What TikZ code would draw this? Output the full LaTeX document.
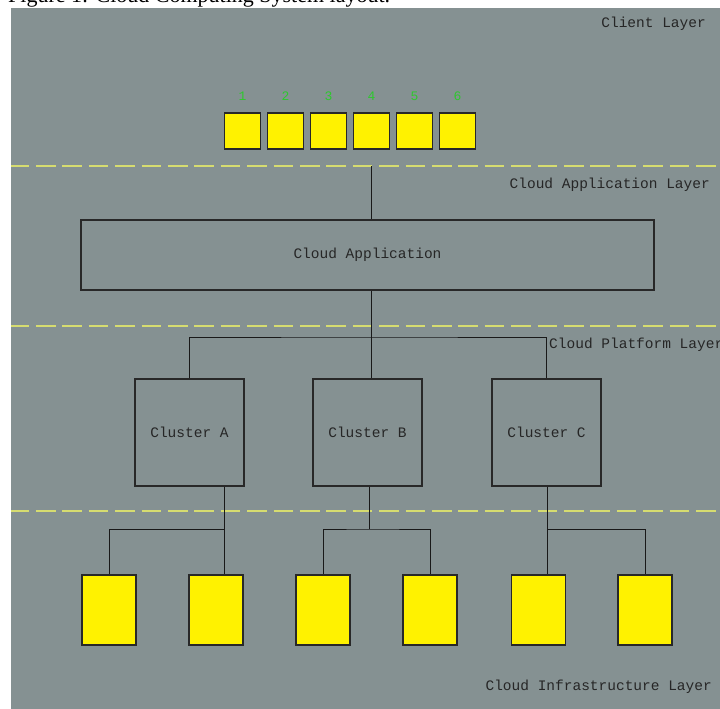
\documentclass[tikz,border=0pt]{standalone}
\usepackage{fontspec}
\setmainfont{Liberation Serif}
\newfontfamily\monofont{Liberation Mono}
\definecolor{panel}{RGB}{133,145,146}
\definecolor{layerline}{RGB}{214,220,112}
\definecolor{boxedge}{RGB}{40,40,40}
\definecolor{idgreen}{RGB}{45,200,45}
\begin{document}
\begin{tikzpicture}[x=1pt,y=-1pt,
  mono/.style={font=\monofont\fontsize{14.5}{16}\selectfont, text=black!85, inner sep=0pt},
  plainbox/.style={draw=boxedge, line width=1.2pt, inner sep=0pt},
  unit/.style={plainbox, fill=yellow, minimum width=36pt, minimum height=36pt},
  leaf/.style={plainbox, fill=yellow, minimum width=54pt, minimum height=70pt},
  cluster/.style={plainbox, minimum width=109pt, minimum height=107pt, mono},
  wire/.style={draw=black!90, line width=1pt},
  divider/.style={draw=layerline, line width=1.6pt, dash pattern=on 19.6pt off 6.8pt, dash phase=1.5pt},
  idlabel/.style={font=\monofont\fontsize{13}{14}\selectfont, text=idgreen, inner sep=0pt, anchor=base}]
\useasboundingbox (0,0) rectangle (720,709);

% backdrop
\fill[panel] (11,8) rectangle (720,709);

% caption, mostly above the page edge
\node[anchor=base west, inner sep=0pt, font=\fontsize{22}{24}\selectfont] (caption) at (8,3) {Figure 1: Cloud Computing System layout.};

% layer dividers
\coordinate (d1w) at (11,166);  \coordinate (d1e) at (720,166);
\coordinate (d2w) at (11,326);  \coordinate (d2e) at (720,326);
\coordinate (d3w) at (11,511);  \coordinate (d3e) at (720,511);
\draw[divider] (d1w) -- (d1e);
\draw[divider] (d2w) -- (d2e);
\draw[divider] (d3w) -- (d3e);

% layer labels
\node[mono, anchor=base east] (lclient) at (706,28) {Client Layer};
\node[mono, anchor=base east] (lapp) at (710,188) {Cloud Application Layer};
\node[mono, anchor=base west] (lplat) at (549,348) {Cloud Platform Layer};
\node[mono, anchor=base east] (linfra) at (712,690) {Cloud Infrastructure Layer};

% clients
\foreach \i in {1,...,6} {
  \node[unit] (u\i) at ({242.5+43*(\i-1)},131) {};
  \node[idlabel] (n\i) at ({242.5+43*(\i-1)},100) {\i};
}

% application
\node[plainbox, minimum width=573pt, minimum height=70pt, mono] (app) at (367.5,255) {Cloud Application};

% platform clusters
\node[cluster] (cA) at (189.5,432.5) {Cluster A};
\node[cluster] (cB) at (367.5,432.5) {Cluster B};
\node[cluster] (cC) at (546.5,432.5) {Cluster C};

% infrastructure nodes
\node[leaf] (l1) at (109,610) {};
\node[leaf] (l2) at (216,610) {};
\node[leaf] (l3) at (323,610) {};
\node[leaf] (l4) at (430,610) {};
\node[leaf] (l5) at (538.5,610) {};
\node[leaf] (l6) at (645,610) {};

% connectors
\coordinate (feed) at (371,166);
\coordinate (bus) at (371,337);
\draw[wire] (feed) -- (feed |- app.north);
\draw[wire] (app.south -| bus) -- (bus);
\draw[wire] (cA.north) |- (bus) -| (cC.north);
\draw[wire] (bus) -- (bus |- cB.north);

\coordinate (jA) at (224,529);
\draw[wire] (jA |- cA.south) -- (jA |- l2.north);
\draw[wire] (jA) -| (l1.north);

\coordinate (jB) at (369,529);
\draw[wire] (jB |- cB.south) -- (jB);
\draw[wire] (l3.north) |- (jB) -| (l4.north);

\coordinate (jC) at (547,529);
\draw[wire] (jC |- cC.south) -- (jC |- l5.north);
\draw[wire] (jC) -| (l6.north);
\end{tikzpicture}
\end{document}
